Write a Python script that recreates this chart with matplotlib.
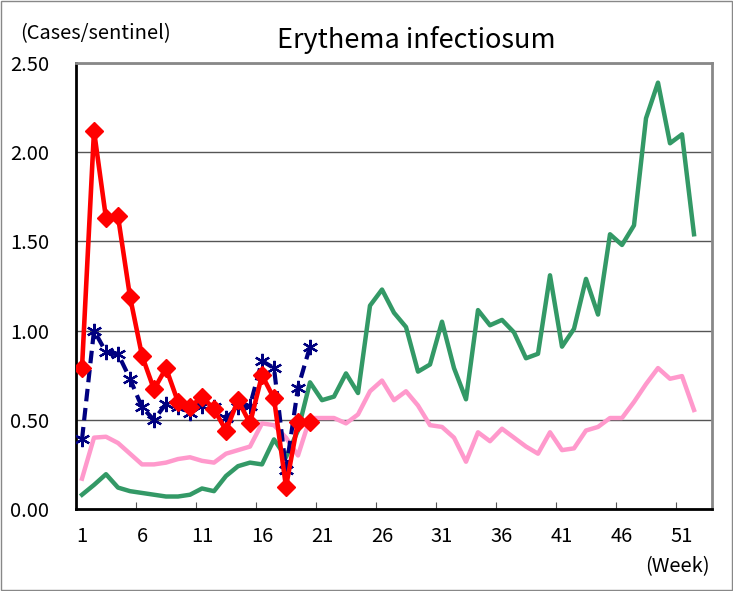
import matplotlib
matplotlib.use('Agg')
import matplotlib.pyplot as plt
from matplotlib.patches import Rectangle

plt.rcParams['font.family'] = ['Noto Sans CJK JP', 'DejaVu Sans']

weeks_full = list(range(1, 53))
weeks_now = list(range(1, 21))

# green line, full previous year
green = [0.08, 0.135, 0.195, 0.12, 0.10, 0.09, 0.08, 0.07, 0.07, 0.08,
         0.115, 0.10, 0.185, 0.24, 0.26, 0.25, 0.39, 0.29, 0.44, 0.71,
         0.61, 0.63, 0.76, 0.65, 1.14, 1.23, 1.10, 1.02, 0.77, 0.81,
         1.05, 0.79, 0.615, 1.115, 1.03, 1.06, 0.99, 0.845, 0.87, 1.31,
         0.91, 1.01, 1.29, 1.09, 1.54, 1.48, 1.59, 2.19, 2.39, 2.05,
         2.10, 1.54]
# pink line, average of past years
pink = [0.17, 0.40, 0.405, 0.37, 0.31, 0.25, 0.25, 0.26, 0.28, 0.29,
        0.27, 0.26, 0.31, 0.33, 0.35, 0.48, 0.47, 0.40, 0.30, 0.51,
        0.51, 0.51, 0.48, 0.53, 0.66, 0.72, 0.61, 0.66, 0.58, 0.47,
        0.46, 0.40, 0.265, 0.43, 0.38, 0.45, 0.40, 0.35, 0.31, 0.43,
        0.33, 0.34, 0.44, 0.46, 0.51, 0.51, 0.60, 0.70, 0.79, 0.73,
        0.745, 0.555]
navy = [0.39, 1.00, 0.88, 0.87, 0.73, 0.57, 0.50, 0.59, 0.57, 0.54,
        0.58, 0.57, 0.51, 0.57, 0.58, 0.83, 0.79, 0.22, 0.68, 0.91]
red = [0.79, 2.12, 1.63, 1.64, 1.19, 0.86, 0.67, 0.79, 0.60, 0.57,
       0.63, 0.56, 0.44, 0.61, 0.48, 0.75, 0.62, 0.125, 0.49, 0.49]

xlabels = ['1', '6', '11', '16', '21', '26', '31', '36', '41', '46', '51']
ylabels = ['0.00', '0.50', '1.00', '1.50', '2.00', '2.50']

fig = plt.figure(figsize=(7.33, 5.91), dpi=100)
ax = fig.add_axes([76 / 733, 1 - 509 / 591, 636 / 733, 446 / 591])

ax.plot(weeks_full, green, color='#339966', lw=3.2, zorder=3)
ax.plot(weeks_full, pink, color='#ff99cc', lw=3.2, zorder=3)
ax.plot(weeks_now, navy, color='#000080', lw=3, ls=(0, (3, 1.6)),
        marker=(6, 2, 0), ms=11, mew=1.6, zorder=4)
ax.plot(weeks_now, red, color='#ff0000', lw=3.3, marker='D', ms=9.5, zorder=5)

ax.set_xlim(0.5, 53.5)
ax.set_ylim(0, 2.5)

ax.set_yticks([0, 0.5, 1.0, 1.5, 2.0, 2.5])
ax.set_yticklabels(ylabels, fontsize=14.5)
ax.tick_params(axis='y', length=0, pad=19.5)
ax.yaxis.grid(True, color='#555555', lw=1)
ax.set_axisbelow(True)

# tick marks between categories, labels under category centres
ax.set_xticks([5.5 + 5 * k for k in range(10)])
ax.set_xticklabels([])
ax.tick_params(axis='x', which='major', direction='in', length=5, color='#555555')
ax.set_xticks(list(range(1, 53, 5)), minor=True)
ax.set_xticklabels(xlabels, minor=True, fontsize=14.5)
ax.tick_params(axis='x', which='minor', length=0, pad=12)

for s in ['left', 'bottom']:
    ax.spines[s].set_color('black')
    ax.spines[s].set_linewidth(2)
for s in ['top', 'right']:
    ax.spines[s].set_color('#888888')
    ax.spines[s].set_linewidth(2)

fig.text(416 / 733, 1 - 40 / 591, 'Erythema infectiosum', ha='center', va='center', fontsize=19.5)
fig.text(20 / 733, 1 - 34 / 591, '(Cases/sentinel)', ha='left', va='center', fontsize=14.5)
fig.text(710 / 733, 1 - 567 / 591, '(Week)', ha='right', va='center', fontsize=14.5)

fig.patches.append(Rectangle((0.001, 0.001), 0.997, 0.997, transform=fig.transFigure,
                             fill=False, edgecolor='#888888', lw=1))

fig.savefig('out.png', dpi=100)
